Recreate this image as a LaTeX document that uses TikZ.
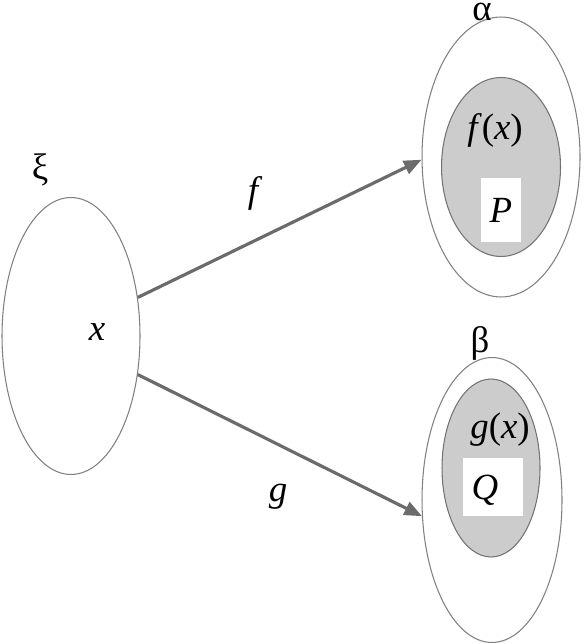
\documentclass[tikz,border=0pt]{standalone}
\usepackage{fontspec}
\setmainfont{Liberation Serif}
\usetikzlibrary{shapes.geometric,arrows.meta}

\begin{document}
\begin{tikzpicture}[x=0.02cm, y=-0.02cm,
    every node/.style={font=\fontsize{21}{25}\selectfont, inner sep=0pt},
    outerset/.style={ellipse, draw=black!50, line width=0.6pt, fill=white},
    innerset/.style={ellipse, draw=black!55, line width=0.6pt, fill=black!20},
    whitebox/.style={rectangle, fill=white},
    mapsto/.style={draw=black!58, line width=1.8pt, -{Triangle[length=10pt, width=8pt]}}]
    \useasboundingbox (0,0) rectangle (586,644);

    % domain
    \node[outerset, minimum width=2.76cm, minimum height=5.54cm] (xi) at (71,336) {};
    \node at (40,170) {ξ};
    \node (x) at (97,332) {\textit{x}};

    % image of f
    \node[outerset, minimum width=3.16cm, minimum height=5.6cm] (alpha) at (501,157) {};
    \node[anchor=north] at (482,3) {α};
    \node[innerset, minimum width=2.38cm, minimum height=3.58cm] (fx) at (501,167) {};
    \node at (495,130) {\textit{f}(\textit{x})};
    \node[whitebox, minimum width=0.8cm, minimum height=1.28cm] (pbox) at (501,210) {\textit{P}};

    % image of g
    \node[outerset, minimum width=2.8cm, minimum height=5.7cm] (beta) at (492,500) {};
    \node at (480,343) {β};
    \node[innerset, minimum width=1.96cm, minimum height=3.56cm] (gx) at (491,468) {};
    \node at (500,430) {\textit{g}(\textit{x})};
    \node[whitebox, minimum width=1.2cm, minimum height=1.18cm] (qbox) at (493,487) {};
    \node at (485,490) {\textit{Q}};

    % maps
    \draw[mapsto] (xi.30) -- (alpha.182);
    \draw[mapsto] (xi.-30) -- (beta.193);
    \node at (255,193) {\textit{f}};
    \node at (278,497) {\textit{g}};
\end{tikzpicture}
\end{document}
